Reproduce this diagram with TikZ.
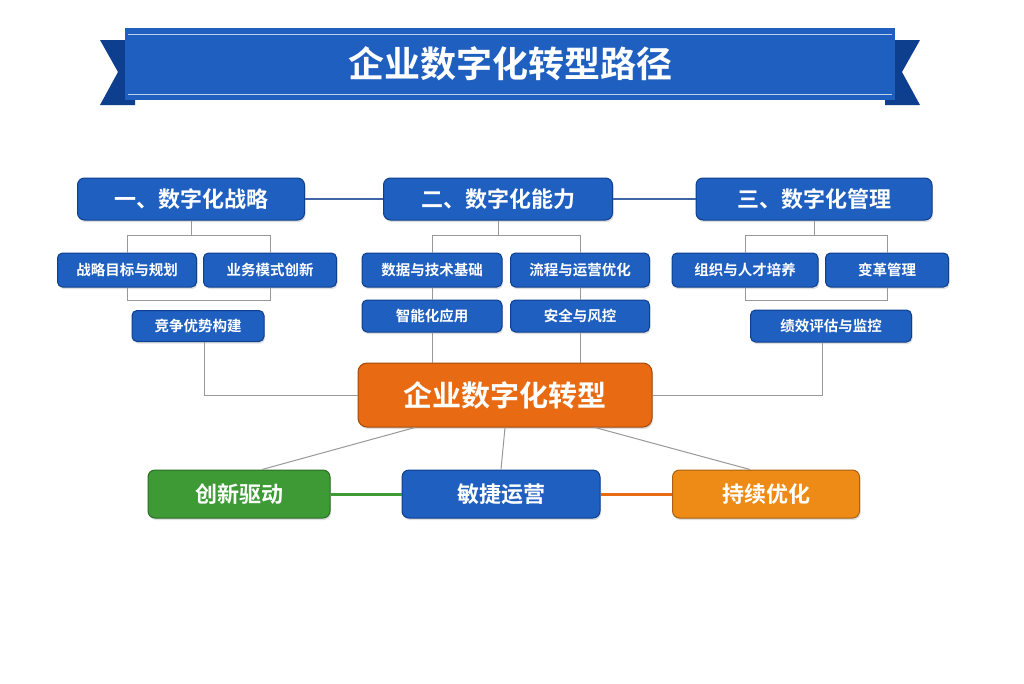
\documentclass[tikz,border=0pt]{standalone}
\usepackage{fontspec}
\setmainfont{Noto Sans CJK SC}[BoldFont={Noto Sans CJK SC Bold}]
\usetikzlibrary{shadows}
\definecolor{bl}{HTML}{1F5FC0}
\definecolor{bld}{HTML}{0E3F8F}
\definecolor{og}{HTML}{E86A12}
\definecolor{gr}{HTML}{3E9A35}
\definecolor{or2}{HTML}{EE8A16}
\begin{document}
\begin{tikzpicture}[x=1pt,y=-1pt,
 box/.style={rounded corners=7pt,draw=bld,line width=1pt,fill=bl,text=white,font=\bfseries,inner sep=0pt,drop shadow={opacity=0.25,shadow xshift=1pt,shadow yshift=-2pt}},
 hdr/.style={box,font=\bfseries\fontsize{22}{22}\selectfont},
 sub/.style={box,rounded corners=5pt,font=\bfseries\fontsize{14.5}{14.5}\selectfont},
 ln/.style={draw=bld!80,line width=2pt},
 gl/.style={draw=gray!80,line width=1pt}]
\useasboundingbox (0,0) rectangle (1024,683);
\fill[white] (0,0) rectangle (1024,683);
% banner
\fill[bld] (100,40) -- (135,40) -- (135,105) -- (100,105) -- (118,72) -- cycle;
\fill[bld] (920,40) -- (885,40) -- (885,105) -- (920,105) -- (902,72) -- cycle;
\node[fill=bl,minimum width=770pt,minimum height=72pt,inner sep=0pt,text=white,font=\bfseries\fontsize{36}{36}\selectfont] (title) at (510,64) {企业数字化转型路径};
\draw[white!70!bl,line width=1pt] (128,34) -- (892,34) (128,94)--(892,94);
% headers
\node[hdr,minimum width=227pt,minimum height=42pt] (h1) at (191,199) {一、数字化战略};
\node[hdr,minimum width=229pt,minimum height=42pt] (h2) at (498,199) {二、数字化能力};
\node[hdr,minimum width=236pt,minimum height=42pt] (h3) at (814,199) {三、数字化管理};
\draw[ln] (h1) -- (h2); \draw[ln] (h2) -- (h3);
% subs
\node[sub,minimum width=139pt,minimum height=34pt] (a1) at (127,270) {战略目标与规划};
\node[sub,minimum width=133pt,minimum height=34pt] (a2) at (270,270) {业务模式创新};
\node[sub,minimum width=132pt,minimum height=31pt] (a3) at (198,326) {竞争优势构建};
\node[sub,minimum width=140pt,minimum height=34pt] (b1) at (432,270) {数据与技术基础};
\node[sub,minimum width=139pt,minimum height=34pt] (b2) at (580,270) {流程与运营优化};
\node[sub,minimum width=140pt,minimum height=32pt] (b3) at (432,316) {智能化应用};
\node[sub,minimum width=139pt,minimum height=32pt] (b4) at (580,316) {安全与风控};
\node[sub,minimum width=146pt,minimum height=34pt] (c1) at (745,270) {组织与人才培养};
\node[sub,minimum width=123pt,minimum height=34pt] (c2) at (887,270) {变革管理};
\node[sub,minimum width=161pt,minimum height=32pt] (c3) at (831,326) {绩效评估与监控};
% brackets
\draw[gl] (h1.south) -- ++(0,15) coordinate (t1);
\draw[gl] (a1.north) |- (t1) -| (a2.north);
\draw[gl] (a1.south) -- ++(0,13) coordinate (u1) -| (a2.south);
\draw[gl] (h2.south) -- ++(0,15) coordinate (t2);
\draw[gl] (b1.north) |- (t2) -| (b2.north);
\draw[gl] (b1) -- (b3); \draw[gl] (b2) -- (b4);
\draw[gl] (h3.south) -- ++(0,15) coordinate (t3);
\draw[gl] (c1.north) |- (t3) -| (c2.north);
\draw[gl] (c1.south) -- ++(0,13) coordinate (u3) -| (c2.south);
% center
\node[box,rounded corners=9pt,draw=og!70!black,fill=og,minimum width=294pt,minimum height=64pt,font=\bfseries\fontsize{29}{29}\selectfont] (ctr) at (505,395) {企业数字化转型};
\draw[gl] (a3.south) ++(6,0) coordinate (a3s) -- (a3s |- ctr) -- (ctr.west);
\draw[gl] (c3.south) ++(-9,0) coordinate (c3s) -- (c3s |- ctr) -- (ctr.east);
\draw[gl] (b3.south) -- (b3.south |- ctr.north);
\draw[gl] (b4.south) -- (b4.south |- ctr.north);
% bottom
\node[box,draw=gr!70!black,fill=gr,minimum width=182pt,minimum height=48pt,font=\bfseries\fontsize{22}{22}\selectfont] (g) at (239,494) {创新驱动};
\node[box,minimum width=198pt,minimum height=48pt,font=\bfseries\fontsize{22}{22}\selectfont] (m) at (501,494) {敏捷运营};
\node[box,draw=or2!70!black,fill=or2,minimum width=187pt,minimum height=48pt,font=\bfseries\fontsize{22}{22}\selectfont] (o) at (766,494) {持续优化};
\draw[gl] ([xshift=-90pt]ctr.south) -- ([xshift=23pt]g.north);
\draw[gl] (ctr.south) -- (m.north);
\draw[gl] ([xshift=90pt]ctr.south) -- ([xshift=-16pt]o.north);
\draw[gr,line width=3pt] (g) -- (m);
\draw[og,line width=3pt] (m) -- (o);
\end{tikzpicture}
\end{document}
